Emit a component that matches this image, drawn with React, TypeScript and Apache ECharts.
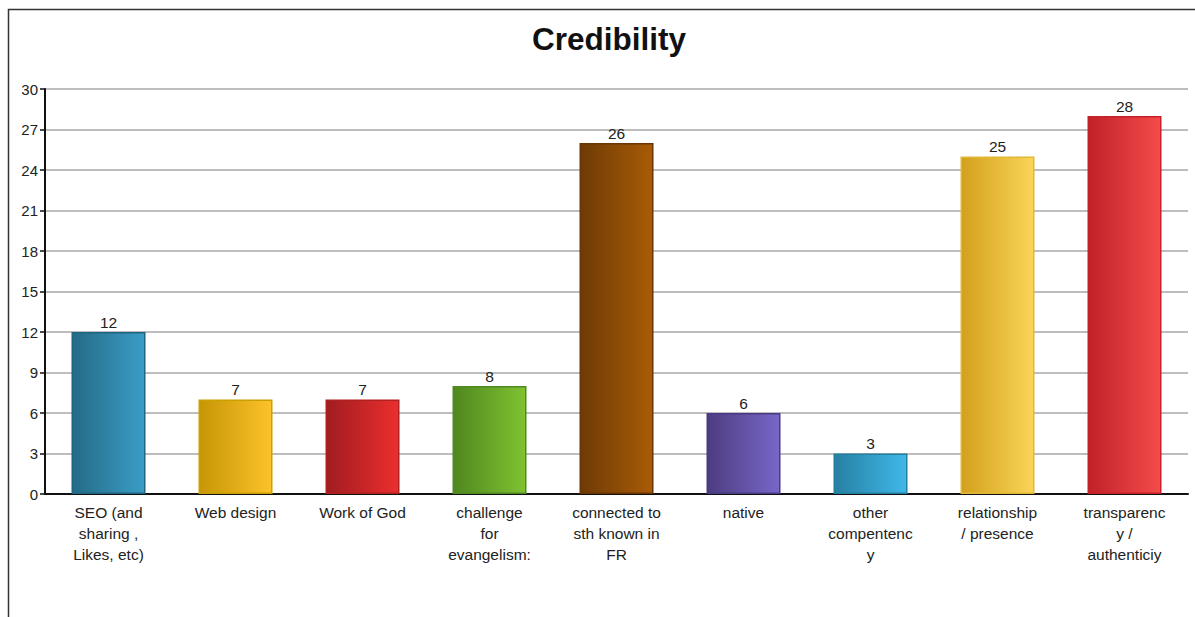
import React, { useEffect, useRef } from "react";
import * as echarts from "echarts";

const categories = [
  "SEO (and\nsharing ,\nLikes, etc)",
  "Web design",
  "Work of God",
  "challenge\nfor\nevangelism:",
  "connected to\nsth known in\nFR",
  "native",
  "other\ncompentenc\ny",
  "relationship\n/ presence",
  "transparenc\ny /\nauthenticiy",
];
const values = [12, 7, 7, 8, 26, 6, 3, 25, 28];
const darkColors = ["#246b86", "#c79505", "#a01c20", "#4f8720", "#6e3a05", "#4d3c80", "#2680a2", "#d3a01c", "#bf2228"];
const lightColors = ["#3a9dc6", "#fcc22a", "#ec2e2e", "#80c230", "#a95c06", "#7867c9", "#40b8e8", "#fad558", "#f54b4b"];
const borderColors = ["#1f6482", "#c9a000", "#b02020", "#4f8a1e", "#6a3504", "#4a3a84", "#237fa0", "#e0b838", "#c8202a"];
const yTicks = { min: 0, max: 30, interval: 3 };

const FONT = "'Liberation Sans', Arial, sans-serif";

export default function App() {
  const ref = useRef<HTMLDivElement>(null);
  useEffect(() => {
    if (!ref.current) return;
    const chart = echarts.init(ref.current, null, { renderer: "svg" });
    chart.setOption({
      animation: false,
      backgroundColor: "#ffffff",
      textStyle: { fontFamily: FONT },
      title: {
        text: "Credibility",
        left: 527,
        top: 18,
        textStyle: { fontSize: 31.5, fontWeight: "bold", color: "#111", fontFamily: FONT },
      },
      graphic: [
        {
          type: "rect",
          shape: { x: 8.5, y: 9.5, width: 1300, height: 800 },
          style: { fill: "none", stroke: "#333", lineWidth: 1.5 },
          silent: true,
        },
      ],
      grid: { left: 45, right: 7, top: 89, bottom: 123, containLabel: false },
      xAxis: {
        type: "category",
        data: categories,
        axisLine: { show: true, lineStyle: { color: "#111", width: 2 } },
        axisTick: { show: false },
        axisLabel: {
          interval: 0,
          fontSize: 15.5,
          lineHeight: 21,
          color: "#222",
          margin: 8,
          fontFamily: FONT,
        },
      },
      yAxis: {
        type: "value",
        min: yTicks.min,
        max: yTicks.max,
        interval: yTicks.interval,
        axisLine: { show: true, lineStyle: { color: "#111", width: 2 } },
        axisTick: { show: true, length: 5, lineStyle: { color: "#111", width: 1.5 } },
        axisLabel: { fontSize: 15, color: "#222", margin: 7, fontFamily: FONT },
        splitLine: { show: true, lineStyle: { color: "#bdbdbd", width: 2 } },
      },
      series: [
        {
          type: "bar",
          barWidth: 74,
          data: values.map((v, i) => ({
            value: v,
            itemStyle: {
              color: new echarts.graphic.LinearGradient(0, 0, 1, 0, [
                { offset: 0, color: darkColors[i] },
                { offset: 1, color: lightColors[i] },
              ]),
              borderColor: borderColors[i],
              borderWidth: 1.5,
            },
          })),
          label: {
            show: true,
            position: "top",
            distance: 2,
            fontSize: 15.5,
            color: "#222",
            fontFamily: FONT,
          },
        },
      ],
    });
    return () => chart.dispose();
  }, []);
  return (
    <div
      ref={ref}
      style={{ position: "fixed", left: 0, top: 0, width: 1195, height: 617 }}
    />
  );
}
